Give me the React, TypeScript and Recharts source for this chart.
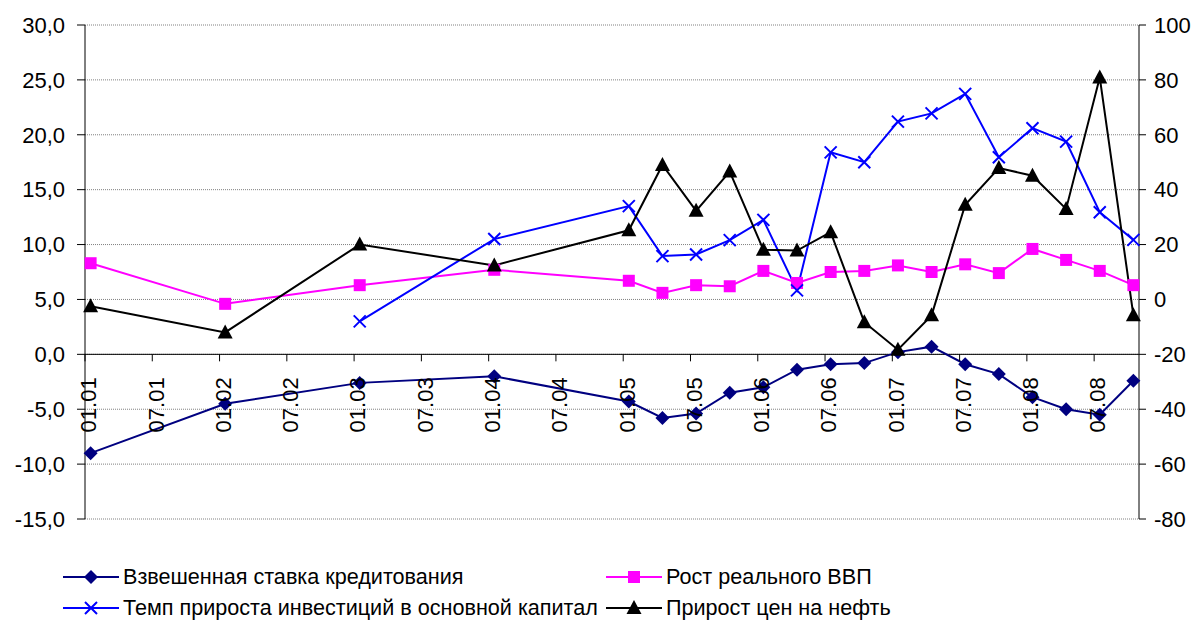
import React from 'react';
import { LineChart, Line, XAxis, YAxis, CartesianGrid, ReferenceLine, Legend } from 'recharts';

// Observation dates, "MM.YY": yearly until 2004, quarterly from 2005
const periods = [
  '01.01', '01.02', '01.03', '01.04',
  '01.05', '04.05', '07.05', '10.05',
  '01.06', '04.06', '07.06', '10.06',
  '01.07', '04.07', '07.07', '10.07',
  '01.08', '04.08', '07.08', '10.08',
];

// left axis, %
const lendingRate = [-9.0, -4.5, -2.6, -2.0, -4.3, -5.8, -5.4, -3.5, -3.0, -1.4, -0.9, -0.8, 0.2, 0.7, -0.9, -1.8, -3.9, -5.0, -5.5, -2.4];
const gdpGrowth = [8.3, 4.6, 6.3, 7.7, 6.7, 5.6, 6.3, 6.2, 7.6, 6.5, 7.5, 7.6, 8.1, 7.5, 8.2, 7.4, 9.6, 8.6, 7.6, 6.3];

// right axis, %
const investmentGrowth = [null, null, -8, 22, 34, 15.8, 16.4, 21.6, 29, 3.3, 53.6, 50, 64.8, 67.8, 74.9, 51.8, 62.4, 57.5, 31.8, 21.7];
const oilPriceGrowth = [-2.5, -12, 20, 12.4, 25.2, 49, 32.3, 46.6, 18.1, 17.8, 24.5, -8.3, -18.3, -5.8, 34.5, 47.9, 45.1, 33, 80.9, -5.8];

const tickLabels = [
  '01.01', '07.01', '01.02', '07.02', '01.03', '07.03', '01.04', '07.04',
  '01.05', '07.05', '01.06', '07.06', '01.07', '07.07', '01.08', '07.08',
];
const leftTicks = [-15, -10, -5, 0, 5, 10, 15, 20, 25, 30];
const rightTicks = [-80, -60, -40, -20, 0, 20, 40, 60, 80, 100];

const FONT = '"Liberation Sans", Arial, sans-serif';
const WIDTH = 1191;
const HEIGHT = 622;
const X_AXIS_H = 1;
const MARGIN = { top: 25, right: 0, bottom: 102, left: 10 };
const PLOT_H = HEIGHT - MARGIN.top - MARGIN.bottom - X_AXIS_H;

// month number counted from January 2001
const monthIndex = (label: string) => {
  const [mm, yy] = label.split('.').map(Number);
  return (yy - 1) * 12 + (mm - 1);
};
const MONTHS = monthIndex(periods[periods.length - 1]) + 1;

const data = periods.map((p, i) => ({
  x: monthIndex(p) + 0.5,
  period: p,
  lending: lendingRate[i],
  gdp: gdpGrowth[i],
  invest: investmentGrowth[i],
  oil: oilPriceGrowth[i],
}));

const fmtLeft = (v: number) => v.toFixed(1).replace('.', ',');

type Shape = 'diamond' | 'square' | 'cross' | 'triangle';

const Marker = ({ cx, cy, shape, color }: { cx: number; cy: number; shape: Shape; color: string }) => {
  if (shape === 'diamond') {
    return <polygon points={`${cx},${cy - 7} ${cx + 7},${cy} ${cx},${cy + 7} ${cx - 7},${cy}`} fill={color} />;
  }
  if (shape === 'square') {
    return <rect x={cx - 6} y={cy - 6} width={12} height={12} fill={color} />;
  }
  if (shape === 'cross') {
    return (
      <path d={`M${cx - 6},${cy - 6}L${cx + 6},${cy + 6}M${cx - 6},${cy + 6}L${cx + 6},${cy - 6}`} stroke={color} strokeWidth={2} />
    );
  }
  return <polygon points={`${cx},${cy - 8} ${cx + 7.5},${cy + 6} ${cx - 7.5},${cy + 6}`} fill={color} />;
};

const series: { key: string; name: string; color: string; shape: Shape; axis: string }[] = [
  { key: 'lending', name: 'Взвешенная ставка кредитования', color: '#000080', shape: 'diamond', axis: 'left' },
  { key: 'gdp', name: 'Рост реального ВВП', color: '#FF00FF', shape: 'square', axis: 'left' },
  { key: 'invest', name: 'Темп прироста инвестиций в основной капитал', color: '#0000FF', shape: 'cross', axis: 'right' },
  { key: 'oil', name: 'Прирост цен на нефть', color: '#000000', shape: 'triangle', axis: 'right' },
];

const dotFor = (shape: Shape, color: string) => (props: any) => {
  const { cx, cy, index } = props;
  if (cx == null || cy == null) return <g key={index} />;
  return <Marker key={index} cx={cx} cy={cy} shape={shape} color={color} />;
};

// category labels sit on the zero line of the left axis
const XTick = (props: any) => {
  const { x, payload } = props;
  const y0 = MARGIN.top + (PLOT_H * (30 - 0)) / (30 - -15);
  const label = tickLabels.find((t) => monthIndex(t) === payload.value) ?? '';
  return (
    <g>
      <line x1={x} x2={x} y1={y0} y2={y0 + 7} stroke="#000" />
      <text
        transform={`translate(${x + 3.5},${y0 + 23}) rotate(-90)`}
        textAnchor="end"
        dy="0.355em"
        fontSize={22}
        fontFamily={FONT}
        fill="#000"
      >
        {label}
      </text>
    </g>
  );
};

const LegendContent = () => (
  <div
    style={{
      display: 'grid',
      gridTemplateColumns: '543px auto',
      rowGap: 9,
      paddingLeft: 63,
      fontFamily: FONT,
      fontSize: 21.6,
      color: '#000',
    }}
  >
    {series.map((s) => (
      <div key={s.key} style={{ display: 'flex', alignItems: 'center', height: 22, whiteSpace: 'nowrap' }}>
        <svg width={56} height={18} style={{ marginRight: 4 }}>
          <line x1={0} x2={56} y1={9} y2={9} stroke={s.color} strokeWidth={2} />
          <Marker cx={28} cy={9} shape={s.shape} color={s.color} />
        </svg>
        <span>{s.name}</span>
      </div>
    ))}
  </div>
);

export default function App() {
  return (
    <div style={{ position: 'absolute', left: 0, top: 0 }}>
      <LineChart width={WIDTH} height={HEIGHT} data={data} margin={MARGIN}>
        <CartesianGrid
          yAxisId="left"
          vertical={false}
          stroke="#808080"
          strokeDasharray="1 1"
        />
        <XAxis
          type="number"
          dataKey="x"
          domain={[0, MONTHS]}
          ticks={tickLabels.map(monthIndex)}
          interval={0}
          tick={(p: any) => <XTick {...p} />}
          axisLine={false}
          tickLine={false}
          height={X_AXIS_H}
        />
        <YAxis
          yAxisId="left"
          domain={[-15, 30]}
          ticks={leftTicks}
          interval={0}
          tickFormatter={fmtLeft}
          width={75}
          tickSize={8}
          tickMargin={12}
          axisLine={{ stroke: '#000' }}
          tickLine={{ stroke: '#000' }}
          tick={{ fill: '#000', fontSize: 22, fontFamily: FONT }}
          allowDataOverflow
        />
        <YAxis
          yAxisId="right"
          orientation="right"
          domain={[-80, 100]}
          ticks={rightTicks}
          interval={0}
          width={52}
          tickSize={7}
          tickMargin={8}
          axisLine={{ stroke: '#000' }}
          tickLine={{ stroke: '#000' }}
          tick={{ fill: '#000', fontSize: 22, fontFamily: FONT, textAnchor: 'start' }}
          allowDataOverflow
        />
        <ReferenceLine yAxisId="left" y={0} stroke="#000" strokeWidth={1} />
        {series.map((s) => (
          <Line
            key={s.key}
            yAxisId={s.axis}
            dataKey={s.key}
            name={s.name}
            stroke={s.color}
            strokeWidth={2}
            dot={dotFor(s.shape, s.color)}
            activeDot={false}
            connectNulls
            isAnimationActive={false}
          />
        ))}
        <Legend
          verticalAlign="middle"
          align="center"
          layout="horizontal"
          wrapperStyle={{ top: 566, left: 0, width: WIDTH }}
          content={<LegendContent />}
        />
      </LineChart>
    </div>
  );
}
